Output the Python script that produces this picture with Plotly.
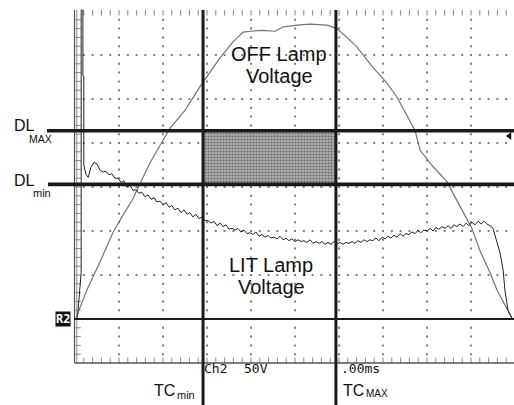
import plotly.graph_objects as go
import numpy as np

# ---------------- data (time in ms, voltage in V; scope: 1.00 ms/div, 50 V/div) ----
off_t = [0.02, 0.27, 0.57, 0.86, 1.09, 1.30, 1.48, 1.70, 2.16, 2.50, 2.84, 3.00, 3.30,
         3.59, 3.82, 3.98, 4.25, 4.55, 4.73, 5.05, 5.34, 5.73, 5.95, 6.18, 6.41, 6.77,
         7.09, 7.32, 7.55, 7.73, 7.84, 8.14, 8.45, 8.68, 9.02, 9.20, 9.43, 9.59, 9.77, 9.93]
off_v = [1, 33, 65, 98, 118, 135, 154, 177, 217, 237, 264, 275, 297,
         315, 326, 327, 328, 327, 332, 334, 335, 334, 330, 320, 309, 286,
         268, 252, 230, 214, 192, 173, 156, 135, 103, 78, 53, 33, 16, 1]

lit_t = [0.05, 0.07, 0.14, 0.14, 0.18, 0.18, 0.20, 0.20, 0.25, 0.30, 0.36, 0.43, 0.50,
         0.57, 0.64, 0.70, 0.77, 0.84, 0.91, 0.98, 1.05, 1.11, 1.18, 1.25, 1.32, 1.39,
         1.45, 1.52, 1.59, 1.66, 1.73, 1.80, 1.86, 1.93, 2.00, 2.07, 2.14, 2.20, 2.27,
         2.34, 2.41, 2.48, 2.55, 2.61, 2.68, 2.75, 2.82, 2.89, 2.95, 3.02, 3.09, 3.16,
         3.23, 3.30, 3.36, 3.43, 3.50, 3.57, 3.64, 3.70, 3.77, 3.84, 3.91, 3.98, 4.05,
         4.11, 4.18, 4.25, 4.32, 4.39, 4.45, 4.52, 4.59, 4.66, 4.73, 4.80, 4.86, 4.93,
         5.00, 5.07, 5.14, 5.20, 5.27, 5.34, 5.41, 5.48, 5.55, 5.61, 5.68, 5.75, 5.82,
         5.89, 5.95, 6.02, 6.09, 6.16, 6.23, 6.30, 6.36, 6.43, 6.50, 6.57, 6.64, 6.70,
         6.77, 6.84, 6.91, 6.98, 7.05, 7.11, 7.18, 7.25, 7.32, 7.39, 7.45, 7.52, 7.59,
         7.66, 7.73, 7.80, 7.86, 7.93, 8.00, 8.07, 8.14, 8.20, 8.27, 8.34, 8.41, 8.48,
         8.55, 8.61, 8.68, 8.75, 8.82, 8.89, 8.95, 9.02, 9.09, 9.16, 9.23, 9.30, 9.36,
         9.43, 9.50, 9.57, 9.66, 9.73, 9.77, 9.84, 9.93]
lit_v = [1, 10, 53, 351, 351, 277, 275, 175, 164, 161, 172, 178, 176,
         169, 167, 168, 164, 165, 160, 160, 155, 157, 150, 152, 146, 147,
         143, 144, 139, 141, 136, 138, 133, 134, 130, 132, 127, 129, 124,
         126, 121, 124, 119, 121, 116, 119, 114, 116, 112, 112, 109, 111,
         106, 109, 105, 107, 102, 103, 101, 103, 99, 101, 97, 98, 96,
         99, 94, 96, 93, 95, 92, 93, 91, 94, 90, 92, 89, 91,
         88, 90, 88, 89, 87, 90, 86, 88, 86, 88, 85, 87, 85,
         88, 85, 87, 85, 87, 86, 88, 86, 89, 87, 90, 88, 90,
         89, 92, 89, 93, 91, 94, 92, 95, 93, 97, 94, 97, 96,
         99, 97, 101, 98, 101, 100, 103, 100, 104, 102, 105, 103, 106,
         103, 107, 105, 108, 105, 109, 106, 110, 107, 111, 108, 111, 108,
         106, 103, 90, 75, 56, 33, 10, 1]

DL_MAX_V = 214     # upper detection level
DL_MIN_V = 153     # lower detection level
TC_MIN_MS = 2.91   # lower time cursor
TC_MAX_MS = 5.93   # upper time cursor

# ---------------- geometry helpers (pixel -> data) ----------------
W, H = 514, 405
X0_PX, Y0_PX, DIV_PX = 75, 319, 44


def px2x(px):
    return (px - X0_PX) / DIV_PX


def py2y(py):
    return (Y0_PX - py) / DIV_PX * 50.0


XR = [px2x(0), px2x(W)]
YR = [py2y(H), py2y(0)]
TOP_V = 350
BOT_V = -50
RIGHT_MS = px2x(W)

fig = go.Figure()

# ---------------- graticule dots ----------------
gx, gy = [], []
for v in range(50, 301, 50):
    for t in np.arange(0.2, 10.0, 0.2):
        gx.append(t); gy.append(v)
for c in range(1, 10):
    for v in np.arange(BOT_V + 10, TOP_V, 10):
        gx.append(c); gy.append(v)
fig.add_trace(go.Scatter(x=gx, y=gy, mode="markers", hoverinfo="skip",
                         marker=dict(symbol="square", size=2, color="#808080", line_width=0)))
tx = list(np.arange(0.2, 10.0, 0.2))
fig.add_trace(go.Scatter(x=tx, y=[TOP_V - 2] * len(tx), mode="markers", hoverinfo="skip",
                         marker=dict(symbol="line-ns", size=4, line=dict(color="#888", width=1))))
fig.add_trace(go.Scatter(x=tx, y=[BOT_V + 3] * len(tx), mode="markers", hoverinfo="skip",
                         marker=dict(symbol="line-ns", size=4, line=dict(color="#888", width=1))))
ly = list(np.arange(BOT_V + 10, TOP_V, 10))
fig.add_trace(go.Scatter(x=[px2x(78)] * len(ly), y=ly, mode="markers", hoverinfo="skip",
                         marker=dict(symbol="line-ew", size=4, line=dict(color="#888", width=1))))

# ---------------- shaded window ----------------
fig.add_trace(go.Scatter(
    x=[TC_MIN_MS, TC_MAX_MS, TC_MAX_MS, TC_MIN_MS, TC_MIN_MS],
    y=[DL_MIN_V, DL_MIN_V, DL_MAX_V, DL_MAX_V, DL_MIN_V],
    fill="toself", mode="none", hoverinfo="skip",
    fillcolor="#a8a8a8",
    fillpattern=dict(shape=".", fgcolor="#333333", bgcolor="#bdbdbd", size=3, solidity=0.55)))

# ---------------- traces ----------------
fig.add_trace(go.Scatter(x=off_t, y=off_v, mode="lines", hoverinfo="skip",
                         line=dict(color="#747474", width=1.2)))
fig.add_trace(go.Scatter(x=lit_t, y=lit_v, mode="lines", hoverinfo="skip",
                         line=dict(color="#222222", width=1)))

# ---------------- frame & cursors ----------------
shapes = []
frame_col = "#555555"
shapes.append(dict(type="line", x0=px2x(74.5), x1=px2x(74.5), y0=BOT_V, y1=TOP_V + 1,
                   line=dict(color=frame_col, width=1.2)))
shapes.append(dict(type="line", x0=px2x(76.8), x1=px2x(76.8), y0=BOT_V, y1=TOP_V + 1,
                   line=dict(color="#888", width=1)))
shapes.append(dict(type="line", x0=px2x(74.5), x1=RIGHT_MS, y0=BOT_V, y1=BOT_V,
                   line=dict(color=frame_col, width=1.3)))
shapes.append(dict(type="line", x0=px2x(74), x1=RIGHT_MS, y0=0, y1=0,
                   line=dict(color="#1a1a1a", width=2)))
shapes.append(dict(type="line", x0=px2x(47), x1=RIGHT_MS, y0=DL_MAX_V, y1=DL_MAX_V,
                   line=dict(color="#1a1a1a", width=3.5)))
shapes.append(dict(type="line", x0=px2x(48), x1=RIGHT_MS, y0=DL_MIN_V, y1=DL_MIN_V,
                   line=dict(color="#1a1a1a", width=3.8)))
for t in (TC_MIN_MS, TC_MAX_MS):
    shapes.append(dict(type="line", x0=t, x1=t, y0=TOP_V + 1, y1=YR[0],
                       line=dict(color="#1a1a1a", width=3)))
fig.update_layout(shapes=shapes)

fig.add_trace(go.Scatter(x=[px2x(509.5)], y=[py2y(136)], mode="markers", hoverinfo="skip",
                         marker=dict(symbol="triangle-left", size=7, color="#111")))

# ---------------- text ----------------
SANS = "Liberation Sans, Arial, Helvetica, sans-serif"
MONO = "DejaVu Sans Mono, monospace"


def ann(text, px, py, size, family=SANS, xanchor="left", color="#111", **kw):
    fig.add_annotation(x=px2x(px), y=py2y(py), text=text, showarrow=False,
                       xanchor=xanchor, yanchor="middle",
                       font=dict(size=size, family=family, color=color), **kw)


ann("DL", 12, 125, 16)
ann("MAX", 27, 138.5, 10.5)
ann("DL", 12, 180, 16)
ann("min", 31, 193, 11)
ann("OFF Lamp", 279, 54, 20, xanchor="center")
ann("Voltage", 279, 76, 20, xanchor="center")
ann("LIT Lamp", 271, 264.5, 20, xanchor="center")
ann("Voltage", 271, 287, 20, xanchor="center")
ann("TC", 152, 390, 16)
ann("min", 175, 394.5, 11)
ann("TC", 341, 390, 16)
ann("MAX", 364, 393.5, 10)
ann("Ch2", 202, 368.5, 13, family=MONO)
ann("50V", 242, 368.5, 13, family=MONO)
ann(".00ms", 339, 368.5, 13, family=MONO)
ann("<b>R2</b>", 63, 319, 12, family=MONO, xanchor="center", color="white",
    bgcolor="#111", borderpad=0)

fig.update_layout(
    width=W, height=H, autosize=False,
    margin=dict(l=0, r=0, t=0, b=0),
    paper_bgcolor="white", plot_bgcolor="white",
    showlegend=False,
    xaxis=dict(range=XR, visible=False, fixedrange=True),
    yaxis=dict(range=YR, visible=False, fixedrange=True),
)

fig.write_html("out.html", config={"displayModeBar": False},
               post_script="document.body.style.margin='0px';document.body.style.overflow='hidden';")
